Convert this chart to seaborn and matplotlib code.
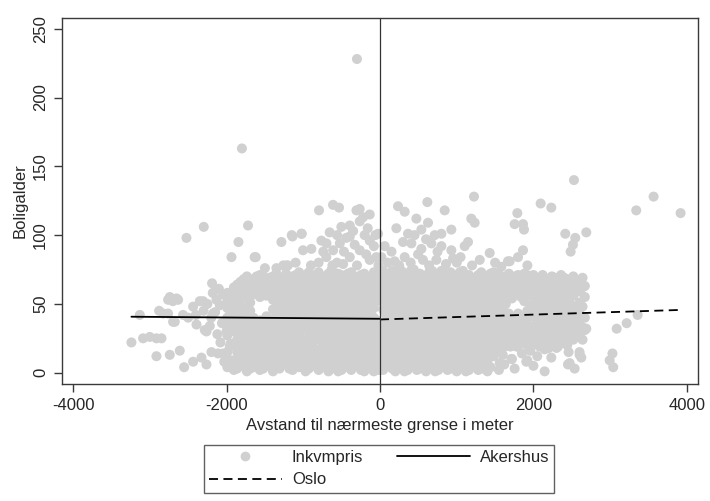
import matplotlib
matplotlib.use("Agg")
import matplotlib.pyplot as plt
from matplotlib.lines import Line2D
import pandas as pd
import seaborn as sns

# ---------------------------------------------------------------------------
# Observations: distance to the nearest Oslo/Akershus border (m) and dwelling age
# ---------------------------------------------------------------------------

# Akershus side, dense core (x, list of ages at that distance)
west_core = [
    (-1990, [4, 15, 27, 33, 40, 47, 53, 58]),
    (-1905, [2, 9, 21, 30, 38, 44, 51, 57, 62]),
    (-1820, [5, 12, 18, 26, 35, 41, 49, 55, 61, 66]),
    (-1735, [1, 8, 16, 24, 31, 37, 43, 54, 60, 65, 70]),
    (-1650, [4, 11, 19, 28, 34, 40, 57, 63, 68]),
    (-1565, [2, 7, 14, 22, 30, 38, 55, 61, 67, 71]),
    (-1480, [5, 12, 20, 27, 34, 41, 56, 62, 68]),
    (-1395, [1, 9, 17, 25, 31, 39, 46, 53, 59, 65, 70]),
    (-1310, [3, 13, 22, 29, 36, 43, 50, 57, 63, 69]),
    (-1225, [6, 11, 18, 26, 34, 41, 47, 54, 60, 66, 72]),
    (-1140, [2, 9, 15, 24, 31, 38, 45, 51, 58, 64, 70]),
    (-1055, [4, 12, 20, 28, 35, 42, 49, 56, 62, 68, 73]),
    (-970, [1, 8, 17, 23, 32, 40, 46, 53, 60, 66, 71]),
    (-885, [5, 13, 21, 29, 36, 44, 50, 57, 63, 69]),
    (-800, [2, 10, 16, 25, 33, 39, 47, 54, 61, 67, 73]),
    (-715, [6, 12, 19, 27, 35, 42, 49, 55, 62, 68]),
    (-630, [3, 9, 22, 30, 37, 45, 52, 58, 64, 70, 75]),
    (-545, [1, 7, 15, 25, 33, 40, 47, 54, 60, 66, 72]),
    (-460, [4, 11, 18, 27, 36, 43, 50, 57, 63, 69]),
    (-375, [2, 9, 16, 23, 30, 39, 46, 53, 60, 67, 73]),
    (-290, [5, 13, 20, 28, 35, 42, 49, 56, 62, 68]),
    (-205, [1, 8, 17, 25, 32, 40, 47, 54, 61, 66, 72]),
    (-120, [3, 11, 19, 27, 36, 44, 51, 58, 64, 70]),
    (-40, [6, 14, 22, 30, 38, 52, 59, 65, 71]),
]

# Akershus side, observations between the core columns
west_fill = [
    (-1948, [9, 21, 36, 44, 50, 56]),
    (-1862, [3, 15, 24, 33, 46, 53, 59, 64]),
    (-1778, [7, 13, 21, 29, 40, 47, 57, 63, 68]),
    (-1692, [3, 13, 21, 27, 36, 45, 51, 60, 66]),
    (-1608, [7, 16, 25, 33, 59, 65, 70]),
    (-1522, [3, 10, 17, 24, 36, 59, 65, 70]),
    (-1438, [6, 15, 23, 30, 37, 57, 64, 69]),
    (-1352, [5, 12, 20, 27, 34, 40, 48, 55, 61, 67, 72]),
    (-1268, [8, 17, 24, 32, 39, 46, 52, 60, 66]),
    (-1182, [3, 14, 21, 29, 37, 44, 50, 57, 63, 69]),
    (-1098, [6, 17, 24, 33, 40, 47, 54, 60, 66, 71]),
    (-1012, [8, 15, 24, 31, 38, 45, 52, 59, 65, 70]),
    (-928, [3, 11, 19, 26, 34, 42, 48, 55, 62, 68, 73]),
    (-842, [8, 17, 25, 33, 40, 47, 53, 60, 66, 71]),
    (-758, [4, 14, 22, 29, 37, 45, 52, 58, 65, 70]),
    (-672, [1, 9, 16, 24, 31, 39, 46, 53, 60, 66, 72]),
    (-588, [5, 12, 19, 27, 35, 42, 49, 56, 62, 68]),
    (-502, [2, 9, 14, 22, 30, 38, 45, 53, 59, 66, 71]),
    (-418, [6, 14, 21, 32, 40, 47, 55, 61, 66, 72]),
    (-332, [5, 12, 19, 26, 34, 43, 50, 57, 64, 70]),
    (-248, [2, 9, 16, 24, 31, 38, 45, 52, 59, 65, 71]),
    (-162, [4, 12, 21, 29, 36, 44, 50, 57, 63, 69]),
    (-80, [1, 7, 15, 23, 31, 40, 47, 55, 61, 67, 73]),
    (-12, [2, 10, 18, 26, 34, 56, 62, 68]),
]

# Akershus side, scattered observations
west_sparse = [
    (-300, 228), (-1800, 163), (-2523, 98), (-2297, 106), (-1720, 107),
    (-1845, 95), (-1936, 84), (-1634, 84), (-2189, 65), (-795, 118),
    (-612, 122), (-534, 120), (-307, 118), (-1285, 95), (-1150, 100),
    (-1020, 101), (-134, 115), (-265, 119),
    (-1003, 89), (-895, 90), (-764, 96), (-656, 102), (-504, 106),
    (-394, 107), (-264, 110), (-394, 99), (-524, 94), (-698, 94),
    (-611, 89), (-394, 84), (-264, 89), (-134, 96), (-48, 84),
    (-134, 82), (-1141, 99), (-1024, 101), (-1620, 84), (-1220, 78),
    (-1260, 78), (-1200, 78), (-800, 80), (-700, 84), (-560, 80),
    (-470, 88), (-330, 93), (-200, 100), (-80, 92), (-300, 78),
    (-180, 86), (-620, 78), (-900, 78), (-1100, 80), (-440, 98),
    (-560, 100), (-160, 105), (-60, 100), (-220, 113), (-350, 103),
    (-740, 88), (-480, 79), (-20, 78), (-1350, 76), (-1500, 76),
    (-3240, 22), (-3131, 42), (-3088, 25), (-3001, 26), (-2914, 25),
    (-2848, 25), (-2914, 12), (-2740, 13), (-2610, 16), (-2553, 4),
    (-2436, 8), (-2327, 11), (-2262, 6), (-2197, 15), (-2111, 14),
    (-2740, 55), (-2652, 54), (-2700, 52), (-2879, 45), (-2762, 43),
    (-2675, 37), (-2567, 42), (-2436, 48), (-2349, 52), (-2392, 35),
    (-2262, 30), (-2218, 34), (-2132, 53), (-2088, 49), (-2300, 45),
    (-2200, 40), (-2050, 57), (-2150, 44), (-2000, 30), (-2080, 22),
    (-2400, 42), (-2500, 40), (-2250, 50), (-2180, 58), (-2100, 61),
    (-2827, 43), (-2697, 37), (-2762, 53), (-2632, 53), (-2306, 52),
    (-2284, 31), (-2176, 43), (-1958, 19), (-2030, 8), (-1893, 3),
    (-2060, 36), (-2120, 28), (-2045, 14),
]

# Oslo side, dense core
east_core = [
    (40, [2, 9, 17, 25, 33, 46, 54, 61, 68, 74]),
    (120, [5, 13, 21, 29, 37, 44, 51, 58, 65, 72]),
    (200, [1, 8, 16, 24, 32, 40, 48, 56, 63, 70]),
    (280, [4, 12, 20, 28, 36, 43, 52, 60, 67, 74]),
    (360, [2, 10, 18, 26, 34, 41, 49, 57, 64, 71]),
    (440, [6, 14, 22, 30, 38, 46, 53, 60, 68, 75]),
    (520, [3, 9, 17, 25, 33, 42, 50, 58, 65, 72]),
    (600, [1, 11, 19, 27, 36, 44, 51, 62, 70]),
    (680, [5, 13, 21, 29, 38, 46, 54, 61, 67, 74]),
    (760, [2, 8, 16, 24, 32, 41, 49, 57, 64, 71]),
    (840, [6, 14, 23, 31, 39, 47, 55, 62, 69]),
    (920, [3, 10, 18, 27, 35, 43, 52, 59, 66, 73]),
    (1000, [1, 7, 15, 24, 33, 40, 48, 56, 63, 70]),
    (1080, [4, 12, 20, 29, 37, 45, 53, 60, 67, 74]),
    (1160, [2, 9, 17, 25, 34, 42, 50, 58, 65, 71]),
    (1240, [5, 14, 22, 30, 38, 46, 54, 61, 68]),
    (1320, [3, 11, 19, 27, 36, 44, 52, 59, 66, 73]),
    (1400, [1, 8, 16, 24, 33, 41, 49, 56, 63, 70]),
    (1480, [12, 21, 29, 37, 45, 53, 60, 67, 73]),
    (1560, [7, 18, 26, 35, 43, 51, 58, 65, 71]),
    (1640, [20, 28, 36, 50, 57, 64, 70]),
    (1720, [10, 24, 31, 39, 54, 61, 68]),
    (1800, [19, 27, 35, 43, 58, 65, 71]),
    (1880, [22, 30, 38, 52, 60, 67, 72]),
    (1960, [16, 26, 33, 41, 49, 56, 63, 70]),
    (2040, [21, 29, 37, 45, 53, 61, 68]),
    (2120, [24, 32, 40, 48, 57, 64, 71]),
    (2200, [18, 27, 35, 43, 51, 59, 66]),
    (2280, [22, 30, 38, 46, 54, 62, 69]),
    (2360, [25, 33, 41, 49, 57, 64, 71]),
    (2440, [20, 28, 36, 45, 53, 61, 68]),
    (2520, [24, 32, 40, 56, 63, 70]),
    (2600, [27, 35, 43, 51, 59, 66]),
    (2670, [31, 40, 55, 63]),
]

# Oslo side, observations between the core columns
east_fill = [
    (80, [6, 13, 21, 29, 37, 42, 50, 58, 65, 71]),
    (160, [3, 10, 17, 25, 33, 40, 47, 54, 61, 68, 74]),
    (240, [5, 12, 20, 28, 36, 44, 52, 59, 66, 72]),
    (320, [1, 8, 16, 24, 32, 39, 47, 56, 63, 70]),
    (400, [5, 14, 22, 30, 37, 45, 53, 61, 68, 74]),
    (480, [2, 10, 18, 26, 34, 42, 49, 57, 64, 71]),
    (560, [6, 13, 21, 29, 38, 46, 54, 61, 68]),
    (640, [3, 8, 16, 24, 32, 40, 48, 56, 66, 73]),
    (720, [1, 9, 17, 25, 34, 42, 51, 58, 65, 71]),
    (800, [5, 12, 20, 28, 36, 45, 53, 60, 67, 74]),
    (880, [2, 10, 18, 27, 35, 43, 51, 58, 66, 72]),
    (960, [6, 14, 22, 31, 39, 47, 55, 62, 69]),
    (1040, [3, 11, 19, 28, 36, 44, 52, 60, 67, 73]),
    (1120, [1, 8, 16, 24, 33, 41, 49, 57, 64, 70]),
    (1200, [5, 13, 21, 29, 38, 46, 54, 62, 69]),
    (1280, [2, 9, 18, 26, 34, 42, 50, 57, 64, 71]),
    (1360, [6, 15, 23, 31, 40, 48, 55, 62, 69]),
    (1440, [4, 12, 20, 28, 37, 45, 52, 59, 66, 72]),
    (1520, [16, 25, 33, 41, 49, 56, 63, 70]),
    (1600, [13, 23, 31, 39, 47, 54, 61, 68]),
    (1680, [26, 34, 43, 58, 66, 72]),
    (1760, [22, 29, 36, 57, 63, 70]),
    (1840, [24, 32, 40, 55, 62, 68]),
    (1920, [20, 28, 35, 45, 58, 65, 71]),
    (2000, [25, 33, 41, 49, 57, 64, 71]),
    (2080, [19, 26, 34, 42, 50, 58, 66]),
    (2160, [21, 29, 37, 45, 54, 61, 68]),
    (2240, [25, 33, 40, 48, 56, 64, 70]),
    (2320, [19, 27, 35, 43, 51, 59, 66]),
    (2400, [24, 31, 38, 46, 54, 62, 69]),
    (2480, [26, 34, 42, 50, 58, 66]),
    (2560, [29, 37, 47, 60, 67]),
    (2640, [24, 33, 48, 62, 69]),
]

# Oslo side, scattered observations
east_sparse = [
    (1225, 128), (235, 121), (322, 117), (617, 124), (843, 118),
    (474, 112), (626, 109), (1190, 112), (1234, 109), (213, 105),
    (365, 101), (539, 104), (713, 100), (800, 101), (930, 104),
    (1104, 92), (1147, 95), (409, 94), (539, 90), (669, 94),
    (800, 92), (930, 89), (952, 83), (61, 92), (18, 84),
    (191, 81), (322, 84), (496, 86), (734, 82), (1430, 87),
    (1581, 77), (1668, 81), (-26, 101), (100, 80), (250, 78),
    (400, 80), (560, 82), (640, 78), (860, 79), (1000, 80),
    (1200, 78), (1300, 82), (1500, 80), (150, 88), (300, 95),
    (450, 100), (600, 97), (750, 88), (1050, 84),
    (2528, 140), (2094, 123), (2233, 120), (1790, 116), (1755, 108),
    (1864, 108), (1877, 104), (2415, 101), (2545, 98), (2689, 102),
    (2515, 93), (2485, 88), (3340, 118), (3566, 128), (3918, 116),
    (1864, 89), (1799, 84), (1690, 81), (1921, 78), (2689, 32),
    (3085, 32), (3215, 36), (3358, 42), (1625, 19), (1700, 19),
    (1780, 19), (2146, 17), (2428, 22), (2458, 15), (2601, 15),
    (2624, 11), (2233, 11), (1920, 9), (1712, 10), (2146, 1),
    (2450, 6), (2537, 3), (3030, 14), (2994, 9), (3040, 4),
    (1755, 3), (1550, 2), (1620, 6), (1850, 14), (2050, 12),
    (2300, 18), (2000, 5), (1603, 21), (1950, 19), (1907, 8),
    (2472, 7), (2602, 13),
]

# Fitted lines on each side of the border
akershus_x = [-3240, 0]
akershus_y = [40.7, 39.2]
oslo_x = [0, 3900]
oslo_y = [38.7, 45.6]

x_ticks = [-4000, -2000, 0, 2000, 4000]
y_ticks = [0, 50, 100, 150, 200, 250]

# ---------------------------------------------------------------------------
rows = []
for cols in (west_core, west_fill, east_core, east_fill):
    for x, ys in cols:
        rows += [(x, y) for y in ys]
rows += west_sparse + east_sparse
df = pd.DataFrame(rows, columns=["avstand", "boligalder"])
lines_ak = pd.DataFrame({"avstand": akershus_x, "boligalder": akershus_y})
lines_os = pd.DataFrame({"avstand": oslo_x, "boligalder": oslo_y})

sns.set_theme(style="white")
plt.rcParams["font.family"] = ["Liberation Sans", "DejaVu Sans"]
plt.rcParams["font.size"] = 12

POINT = "#d0d0d0"
FRAME = "#3a3a3a"

fig = plt.figure(figsize=(7.10, 5.01), dpi=100)
ax = fig.add_axes([62 / 710, 1 - 384 / 501, 636 / 710, 366 / 501])

sns.scatterplot(data=df, x="avstand", y="boligalder", ax=ax, color=POINT,
                s=52, linewidth=0, edgecolor="none", legend=False, zorder=2)
sns.lineplot(data=lines_ak, x="avstand", y="boligalder", ax=ax, color="black",
             linewidth=1.3, zorder=3)
sns.lineplot(data=lines_os, x="avstand", y="boligalder", ax=ax, color="black",
             linewidth=1.3, linestyle=(0, (5, 3)), zorder=3)
ax.axvline(0, color="#333333", linewidth=0.9, zorder=4)

ax.set_xlim(-4145, 4145)
ax.set_ylim(-8.2, 257.8)
ax.set_xticks(x_ticks)
ax.set_yticks(y_ticks)
ax.set_xticklabels([str(t) for t in x_ticks], fontsize=12)
ax.set_yticklabels([str(t) for t in y_ticks], fontsize=12, rotation=90,
                   va="center")
ax.tick_params(axis="both", direction="out", length=6, width=1, color=FRAME,
               pad=4, bottom=True, left=True)
for sp in ax.spines.values():
    sp.set_visible(True)
    sp.set_color(FRAME)
    sp.set_linewidth(1.0)

ax.set_xlabel("Avstand til nærmeste grense i meter", fontsize=12, labelpad=4)
ax.set_ylabel("Boligalder", fontsize=12, labelpad=4)

handles = [
    Line2D([], [], marker="o", linestyle="", color=POINT, markersize=6),
    Line2D([], [], color="black", linewidth=1.3, linestyle=(0, (5, 3))),
    Line2D([], [], color="black", linewidth=1.3),
]
labels = ["Inkvmpris", "Oslo", "Akershus"]
leg = fig.legend(handles, labels, ncol=2, loc="upper center",
                 bbox_to_anchor=(379 / 710, 1 - 445 / 501), frameon=True,
                 fancybox=False, edgecolor=FRAME, fontsize=12,
                 handlelength=4.4, handletextpad=0.6, columnspacing=2.0,
                 borderpad=0.3, labelspacing=0.45, borderaxespad=0)
leg.get_frame().set_linewidth(1.0)

fig.savefig("out.png", dpi=100)
